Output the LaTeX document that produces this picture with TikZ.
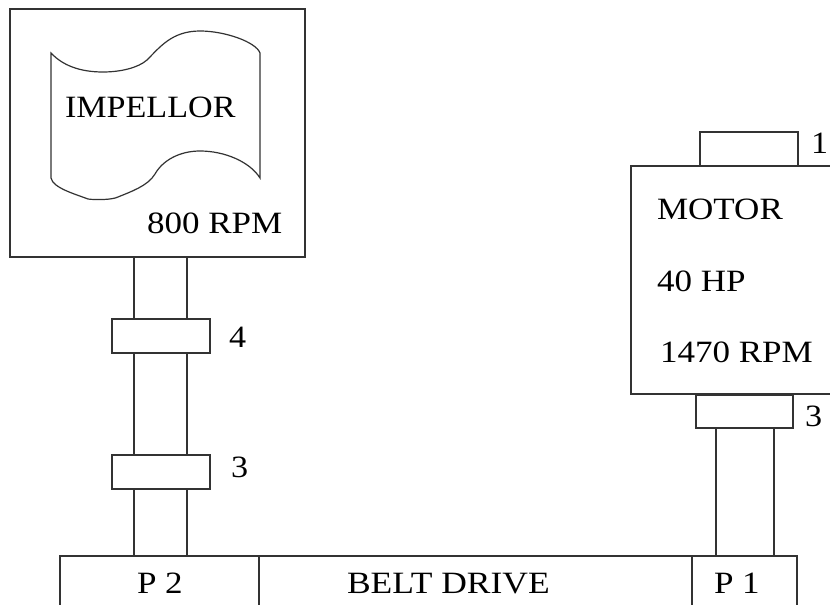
\documentclass[tikz,border=0pt]{standalone}
\usepackage{fontspec}
\setmainfont[FakeStretch=1.13]{Liberation Serif}
\newfontfamily\narrowf[FakeStretch=1.1]{Liberation Serif}
\newfontfamily\widef[FakeStretch=1.145]{Liberation Serif}
\definecolor{ink}{HTML}{333333}
\tikzset{
  ln/.style={draw=ink,line width=1.2pt},
  part/.style={ln,rectangle,inner sep=0pt,outer sep=0pt},
  lab/.style={inner sep=0pt,outer sep=0pt,anchor=base west,text=black,font=\fontsize{31}{31}\selectfont}
}
\begin{document}
\begin{tikzpicture}[x=1pt,y=-1pt]
\useasboundingbox (0,0) rectangle (830,605);
\fill[white] (0,0) rectangle (830,605);
% boxes
\node[part,minimum width=295pt,minimum height=248pt] (imp) at (157.5,133) {};
\node[part,minimum width=98pt,minimum height=34pt] (c4) at (161,336) {};
\node[part,minimum width=98pt,minimum height=34pt] (c3) at (161,472) {};
\node[part,minimum width=98pt,minimum height=34pt] (cap) at (749,149) {};
\node[part,minimum width=97pt,minimum height=33pt] (c3m) at (744.5,411.5) {};
% motor (runs off the right edge)
\coordinate (mtr) at (830,166);
\coordinate (mbr) at (830,394);
\coordinate (mtl) at (631,166);
\coordinate (mbl) at (631,394);
\draw[ln] (mtr) -- (mtl) -- (mbl) -- (mbr);
% belt (runs off the bottom edge)
\coordinate (btl) at (60,556);
\coordinate (btr) at (797,556);
\coordinate (bbl) at (60,605);
\coordinate (bbr) at (797,605);
\coordinate (d1t) at (259,556);
\coordinate (d1b) at (259,605);
\coordinate (d2t) at (692,556);
\coordinate (d2b) at (692,605);
\draw[ln] (bbl) -- (btl) -- (btr) -- (bbr);
\draw[ln] (d1t) -- (d1b);
\draw[ln] (d2t) -- (d2b);
% shafts
\foreach \sx in {134,187}{
  \draw[ln] (\sx,0 |- imp.south) -- (\sx,0 |- c4.north);
  \draw[ln] (\sx,0 |- c4.south) -- (\sx,0 |- c3.north);
  \draw[ln] (\sx,0 |- c3.south) -- (\sx,0 |- btl);
}
\foreach \sx in {716,774}{
  \draw[ln] (\sx,0 |- c3m.south) -- (\sx,0 |- btl);
}
% impellor blade
\draw[ln] (51,53)
  .. controls (65,68) and (85,72) .. (103,72)
  .. controls (120,72) and (138,68) .. (147,60)
  .. controls (160,47) and (172,31) .. (200,31)
  .. controls (225,31) and (256,42) .. (260,53)
  -- (260,178)
  .. controls (250,162) and (225,151) .. (200,151)
  .. controls (180,151) and (163,160) .. (155,174)
  .. controls (148,186) and (130,192) .. (118,197)
  .. controls (112,200) and (95,200) .. (88,199)
  .. controls (75,194) and (53,188) .. (51,178)
  -- cycle;
% labels
\node[lab] (t1) at (65,117) {\narrowf IMPELLOR};
\node[lab] (t2) at (147,233) {800 RPM};
\node[lab] (t3) at (657,219) {MOTOR};
\node[lab] (t4) at (657,291) {40 HP};
\node[lab] (t5) at (660,362) {1470 RPM};
\node[lab] (t6) at (811,153) {\narrowf 1};
\node[lab] (t7) at (229,347) {\narrowf 4};
\node[lab] (t8) at (231,477) {\narrowf 3};
\node[lab] (t9) at (805,426) {\narrowf 3};
\node[lab] (t10) at (137,593) {P 2};
\node[lab] (t11) at (347,593) {\widef BELT DRIVE};
\node[lab] (t12) at (714,593) {P 1};
\end{tikzpicture}
\end{document}
